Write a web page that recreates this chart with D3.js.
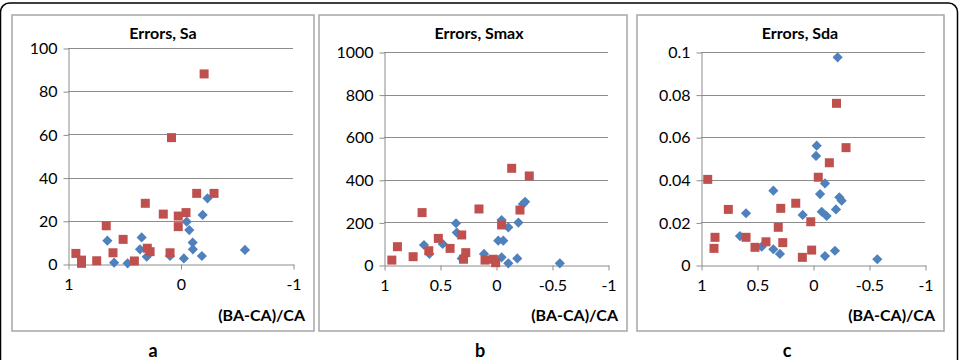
<!DOCTYPE html>
<html>
<head>
<meta charset="utf-8">
<script src="https://cdn.jsdelivr.net/npm/d3@7"></script>
<style>
  body { margin: 0; background: #fff; }
  text { font-family: Lato, "Open Sans", sans-serif; fill: #000; }
</style>
</head>
<body>
<script>
// data
let saBlueX = [0.65, 0.59, 0.47, 0.345, 0.36, 0.30, 0.093, -0.03, -0.055, -0.078, -0.108, -0.11, -0.19, -0.197, -0.24, -0.573];
let saBlueY = [10.8, 0.6, 0.3, 12.3, 6.8, 3.4, 3.7, 2.6, 19.6, 15.7, 9.9, 6.8, 3.7, 22.7, 30.4, 6.5];
let saRedX = [0.93, 0.88, 0.88, 0.745, 0.66, 0.60, 0.51, 0.41, 0.313, 0.295, 0.27, 0.153, 0.093, 0.08, 0.02, 0.02, -0.049, -0.144, -0.21, -0.298];
let saRedY = [4.9, 1.8, 0.3, 1.5, 17.7, 5.2, 11.4, 1.4, 28.1, 7.3, 5.7, 23.1, 5.2, 58.5, 22.2, 17.3, 23.8, 32.7, 88, 32.7];

let smaxBlueX = [0.643, 0.595, 0.476, 0.357, 0.35, 0.306, 0.107, -0.02, -0.065, -0.05, -0.11, -0.05, -0.11, -0.19, -0.2, -0.24, -0.26, -0.57];
let smaxBlueY = [94, 52, 99, 196, 152, 31, 52, 114, 114, 211, 177, 36, 8, 31, 199, 286, 297, 8];
let smaxRedX = [0.93, 0.88, 0.74, 0.66, 0.60, 0.515, 0.41, 0.306, 0.29, 0.27, 0.152, 0.098, 0.024, 0.003, -0.05, -0.14, -0.214, -0.297];
let smaxRedY = [23, 86, 39, 246, 67, 125, 78, 141, 27, 58, 263, 23, 27, 11, 188, 454, 258, 418];

let sdaBlueX = [-0.027, -0.033, 0.354, 0.598, 0.652, 0.458, 0.354, 0.295, 0.092, -0.063, -0.107, -0.078, -0.122, -0.107, -0.196, -0.205, -0.235, -0.256, -0.574, -0.22];
let sdaBlueY = [0.0512, 0.056, 0.0349, 0.0243, 0.0136, 0.0086, 0.0074, 0.0052, 0.0235, 0.0333, 0.0383, 0.025, 0.023, 0.0042, 0.0067, 0.0261, 0.0318, 0.0302, 0.0027, 0.0975];
let sdaRedX = [0.94, 0.875, 0.884, 0.756, 0.598, 0.518, 0.42, 0.31, 0.288, 0.27, 0.154, 0.095, 0.02, 0.012, -0.047, -0.146, -0.21, -0.295];
let sdaRedY = [0.0402, 0.013, 0.0078, 0.0261, 0.013, 0.0083, 0.0109, 0.0177, 0.0266, 0.0105, 0.029, 0.0036, 0.0203, 0.007, 0.0412, 0.048, 0.0759, 0.0551];

let titles = ["Errors, Sa", "Errors, Smax", "Errors, Sda"];
let letters = ["a", "b", "c"];
let yTicksA = [0, 20, 40, 60, 80, 100];
let yTicksB = [0, 200, 400, 600, 800, 1000];
let yTicksC = [0, 0.02, 0.04, 0.06, 0.08, 0.1];
let xTicksA = [1, 0, -1];
let xTicksBC = [1, 0.5, 0, -0.5, -1];
let xLabel = "(BA-CA)/CA";

let blue = "#4F81BD",
    red = "#C0504D",
    grid = "#8c8c8c";

let svg = d3.select("body")
    .append("svg")
    .attr("width", 961)
    .attr("height", 360);

// outer rounded frame
svg.append("rect")
    .attr("x", 0.5).attr("y", 3)
    .attr("width", 957).attr("height", 420)
    .attr("rx", 9)
    .style("fill", "none")
    .style("stroke", "#000")
    .style("stroke-width", 1.5);

let panels = [
    {box: [12, 314], px: [68, 293], py: [264, 48], title: 163, letter: 153,
     yt: yTicksA, xt: xTicksA, bx: saBlueX, by: saBlueY, rx: saRedX, ry: saRedY},
    {box: [319, 627], px: [384, 608], py: [265, 52], title: 479, letter: 480,
     yt: yTicksB, xt: xTicksBC, bx: smaxBlueX, by: smaxBlueY, rx: smaxRedX, ry: smaxRedY},
    {box: [637, 944], px: [701, 925], py: [265, 52], title: 800, letter: 787,
     yt: yTicksC, xt: xTicksBC, bx: sdaBlueX, by: sdaBlueY, rx: sdaRedX, ry: sdaRedY}
];

let diamond = d3.symbol().type(d3.symbolSquare).size(52)();
let square = d3.symbol().type(d3.symbolSquare).size(81)();

panels.forEach(function(p, i) {
    let g = svg.append("g");

    g.append("rect")
        .attr("x", p.box[0]).attr("y", 15)
        .attr("width", p.box[1] - p.box[0]).attr("height", 316)
        .style("fill", "#fff")
        .style("stroke", "#a6a6a6")
        .style("stroke-width", 1.5);

    let x = d3.scaleLinear().domain([1, -1]).range(p.px);
    let y = d3.scaleLinear().domain([0, p.yt[p.yt.length - 1]]).range(p.py);

    // gridlines
    g.selectAll(".grid")
        .data(p.yt.slice(1))
        .enter()
        .append("line")
        .attr("x1", p.px[0]).attr("x2", p.px[1])
        .attr("y1", d => Math.round(y(d)) + 0.5)
        .attr("y2", d => Math.round(y(d)) + 0.5)
        .style("stroke", grid);

    let yAxis = g.append("g")
        .attr("transform", "translate(" + (p.px[0] + 0.5) + ",0.5)")
        .call(d3.axisLeft(y).tickValues(p.yt).tickFormat(d => d).tickSize(5).tickPadding(6).tickSizeOuter(0));
    yAxis.select(".domain").style("stroke", grid);
    yAxis.selectAll("line").style("stroke", grid);
    yAxis.selectAll("text").style("font-size", "16px").style("font-family", "Lato");

    let xAxis = g.append("g")
        .attr("transform", "translate(0.5," + (Math.round(p.py[0]) + 0.5) + ")")
        .call(d3.axisBottom(x).tickValues(p.xt).tickFormat(d => d).tickSize(5).tickPadding(9).tickSizeOuter(0));
    xAxis.select(".domain").style("stroke", grid);
    xAxis.selectAll("line").style("stroke", grid);
    xAxis.selectAll("text").style("font-size", "16px").style("font-family", "Lato");

    g.append("text")
        .attr("x", p.title).attr("y", 38.5)
        .attr("text-anchor", "middle")
        .style("font-weight", "bold")
        .style("font-size", "16px")
        .text(titles[i]);

    g.append("text")
        .attr("x", p.box[1] - 9).attr("y", 321)
        .attr("text-anchor", "end")
        .style("font-weight", "bold")
        .style("font-size", "16px")
        .text(xLabel);

    svg.append("text")
        .attr("x", p.letter).attr("y", 357)
        .attr("text-anchor", "middle")
        .style("font-weight", "bold")
        .style("font-size", "18px")
        .text(letters[i]);

    g.selectAll(".blue")
        .data(p.bx)
        .enter()
        .append("path")
        .attr("d", diamond)
        .attr("transform", (d, j) => "translate(" + x(d) + "," + y(p.by[j]) + ") rotate(45)")
        .style("fill", blue);

    g.selectAll(".red")
        .data(p.rx)
        .enter()
        .append("path")
        .attr("d", square)
        .attr("transform", (d, j) => "translate(" + x(d) + "," + y(p.ry[j]) + ")")
        .style("fill", red);
});
</script>
</body>
</html>
